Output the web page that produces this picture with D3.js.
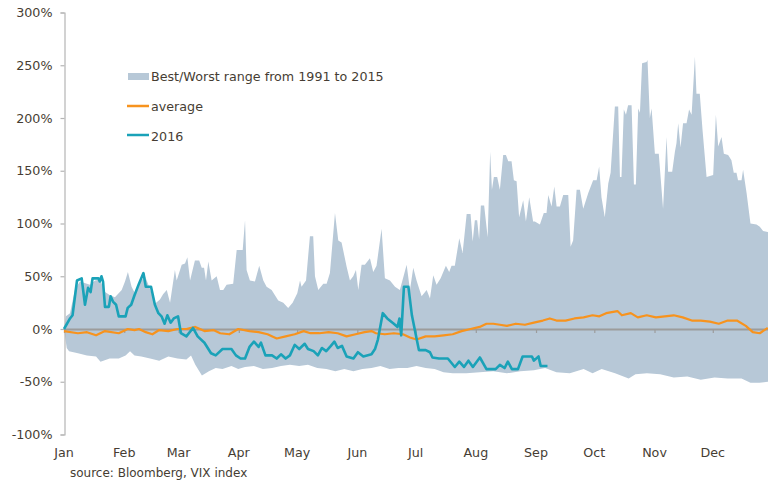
<!DOCTYPE html>
<html><head><meta charset="utf-8">
<script src="https://cdn.jsdelivr.net/npm/d3@7"></script>
<style>
body{margin:0;background:#fff}
svg{display:block}
text{font-family:"DejaVu Sans",Verdana,sans-serif;fill:#463d33}
</style>
</head><body>
<svg id="chart" width="768" height="482"></svg>
<script>
// ---- data (day of year, % change) ----
const monthLabels = ["Jan","Feb","Mar","Apr","May","Jun","Jul","Aug","Sep","Oct","Nov","Dec"];
const monthStarts = [0,31,59,90,120,151,181,212,243,273,304,334];
const yTicks = [-100,-50,0,50,100,150,200,250,300];
const legendLabels = ["Best/Worst range from 1991 to 2015","average","2016"];
const sourceText = "source: Bloomberg, VIX index";

const rangeHigh = [[0,0],[1,12],[3.1,15],[5.7,38],[8.2,45],[13.4,42],[16,46],[18.5,47],[21.1,35],[23.7,32],[26.2,30],[29.7,37],[31.4,45],[32.9,54],[34.8,40],[36.5,34],[39.1,44],[41.7,50],[44.3,38],[46.8,24],[49.4,28],[51,33],[52.9,37],[54.6,25],[57.1,56],[58,46],[60.6,61],[62.3,62],[63.5,68],[64.9,46],[66.6,59],[67.4,65],[69.6,65],[70.9,58],[72.1,58],[73.1,46],[74.3,64],[76,46],[78.6,50],[80.3,37],[82,37],[83.7,42],[87.1,43],[88.9,75],[92,75],[93.2,103],[94,56],[95.7,46],[98.3,45],[100.5,60],[102.6,46],[104.3,40],[106.9,37],[110.3,27],[112.9,25],[115.4,20],[117.7,25],[120.1,34],[121.5,46],[122.3,40],[124.6,46],[126.6,88],[128.3,88],[129.2,50],[130.9,37],[133.5,43],[135.2,43],[136.9,53],[139.5,110],[141.2,84],[142.9,82],[145.5,59],[147.2,46],[148.9,50],[150.3,56],[151.5,37],[153.2,61],[154.9,61],[157.5,67],[159.2,54],[160.9,60],[163.5,95],[165.2,48],[167.8,46],[170.4,40],[172.9,37],[176.4,61],[178.1,37],[179.8,58],[181.5,46],[184.1,31],[186.7,37],[188.4,29],[190.1,51],[191.8,42],[193.9,48],[196.6,60],[198.3,54],[199.5,60],[201.2,60],[203.5,86],[205.2,72],[207.3,109],[209.3,109],[210.4,83],[211.5,103],[212.7,103],[213.7,85],[214.6,117],[216.3,117],[218.1,87],[219.4,168],[220.3,132],[221.3,144],[223,144],[224.4,132],[226.1,165],[227.5,165],[228.7,159],[230.4,159],[231.6,141],[233,140],[234.3,106],[236.4,122],[237.8,102],[239.5,125],[241.5,102],[242.4,102],[245,99],[247,110],[248.4,110],[249.3,127],[251,116],[252.4,135],[253.6,116],[255.3,116],[257,127],[259.6,127],[260.8,78],[262.1,84],[263.9,132],[265.6,132],[267.3,114],[269.9,129],[272.4,141],[274.2,141],[275.5,154],[276.7,125],[278.4,106],[280.2,138],[281.4,148],[283.6,211],[285.3,211],[286.2,144],[287,144],[288.2,208],[289.3,203],[290.4,212],[292.2,212],[293.4,137],[294.4,137],[295.6,209],[296.5,205],[297.6,252],[299.9,253],[300.4,255],[301.6,200],[302.5,209],[304.2,166],[306.2,166],[308.4,114],[310.2,182],[311,149],[313.1,149],[314.5,168],[315.3,176],[316.2,195],[317.4,172],[318.7,195],[320.5,195],[321.8,208],[323.1,203],[324.8,258],[325.6,223],[327.3,223],[328.7,189],[330.8,144],[334.2,146],[335.6,203],[336.8,173],[338.5,182],[339.7,166],[341.9,165],[343.6,160],[344.8,148],[346.2,148],[347,141],[348.8,141],[349.6,151],[351.4,129],[353.4,100],[356.5,99],[358.2,97],[359.9,93],[362.3,92],[365,91]];

const rangeLow = [[0,0],[1.4,-18],[2.6,-21],[7.2,-23],[11.8,-25],[16.5,-26],[18.8,-31],[23.5,-28],[28.2,-28],[31.7,-25],[34,-21],[36.3,-25],[39.8,-26],[44.3,-28],[49,-30],[53.7,-26],[58.4,-28],[63,-29],[65.4,-25],[67.6,-34],[71,-44],[74.6,-40],[78.1,-37],[81.6,-38],[86.2,-35],[89.7,-38],[93.2,-36],[97.8,-35],[102.4,-38],[107.1,-37],[111.7,-35],[116.3,-34],[121.1,-35],[125.6,-34],[130.4,-37],[135.1,-38],[139.7,-40],[144.3,-38],[149,-40],[153.6,-38],[158.3,-37],[162.9,-35],[167.6,-38],[172.2,-37],[176.8,-37],[181.5,-35],[186.2,-37],[190.8,-38],[195.4,-41],[200.1,-42],[207.1,-42],[214,-41],[221,-40],[228,-42],[234.9,-40],[241.9,-39],[247.7,-37],[253.5,-41],[260.4,-42],[267.5,-38],[272.1,-42],[276.8,-38],[283.7,-42],[290.7,-47],[294.2,-43],[300.1,-42],[306.9,-43],[313.9,-46],[320.9,-45],[327.8,-48],[334.9,-46],[341.7,-47],[348.8,-47],[353.4,-51],[358.1,-51],[362.3,-50],[365,-50]];

const average = [[0,-2],[7.2,-4],[11.8,-3],[16.5,-6],[21.1,-2],[28.2,-4],[32.8,0],[36.3,-1],[38.6,0],[42.1,-3],[45.5,-5],[49,-1],[53.7,-2],[58.4,0],[63,0],[67.6,2],[72.3,-2],[76.9,-1],[80.4,-4],[85.1,-5],[89.7,0],[95.5,-2],[100.2,-3],[104.8,-5],[109.5,-9],[114.1,-7],[118.8,-5],[123.4,-2],[126.9,-4],[131.5,-4],[136.2,-3],[140.9,-4],[145.5,-7],[150.1,-5],[154.7,-3],[158.3,-2],[160.6,-4],[165.2,-5],[169.8,-4],[174.5,-5],[178.1,-8],[181.5,-10],[186.2,-7],[190.8,-7],[195.4,-6],[200.1,-5],[204.7,-2],[209.3,0],[214,2],[217.5,5],[221,5],[224.4,4],[228,3],[232.6,5],[237.3,4],[241.9,6],[246.5,8],[250.1,10],[253.5,8],[258.2,8],[262.8,10],[267.5,11],[272.1,13],[275.6,12],[279.1,15],[284.9,17],[287.2,13],[291.8,15],[295.4,11],[300,13],[304.7,11],[309.3,12],[313.9,13],[318.5,11],[323.2,8],[327.8,8],[332.5,7],[337.1,5],[341.7,8],[346.4,8],[351,3],[354.6,-3],[358.2,-4],[362.3,1]];

const y2016 = [[0,0],[3.1,10],[4.4,13],[6.7,46],[9.1,48],[10.8,23],[12.4,39],[13.7,35],[14.7,48],[17.7,48],[18.4,45],[19.3,50],[20.1,45],[21.1,21],[23.1,21],[24,31],[25.2,26],[26.8,23],[28.2,12],[31.7,12],[32.8,20],[34.6,23],[36.3,32],[38.6,43],[40.9,53],[42.1,40],[44.8,40],[46.8,23],[48.6,15],[50.2,12],[51.8,5],[53.2,13],[54.9,6],[56.5,10],[58.7,12],[60.2,-4],[63,-7],[66.4,1],[68.8,-7],[72.3,-13],[75.7,-23],[78.1,-25],[81.6,-19],[86.2,-19],[88.5,-25],[90.9,-28],[93.2,-28],[95.5,-17],[97.8,-12],[100.2,-17],[101.4,-13],[103.7,-25],[107.1,-25],[109.5,-28],[111.7,-24],[114.1,-28],[116.3,-25],[118.8,-15],[121.1,-19],[123.9,-14],[125.6,-19],[128.5,-21],[130.7,-25],[132.8,-18],[135,-21],[137.4,-16],[139.2,-12],[140.9,-18],[143.1,-16],[145.5,-26],[149,-28],[151.3,-22],[154.1,-26],[158.3,-24],[160.1,-19],[161.6,-10],[164.1,15],[166.4,10],[169.8,5],[171.7,2],[172.7,10],[173.6,-6],[175,40],[177.3,40],[179.1,13],[181.5,-9],[182.7,-20],[186.2,-20],[188.4,-22],[189.7,-27],[193,-28],[197.6,-28],[201.2,-36],[203.5,-31],[205.9,-36],[208.2,-30],[210.5,-36],[214.1,-27],[217.5,-38],[222.2,-38],[224.4,-34],[226.8,-37],[228.5,-31],[230.6,-38],[233.7,-38],[236.1,-26],[240.9,-26],[241.9,-30],[244.3,-26],[245.4,-35],[248.9,-35]];

// ---- colours ----
const bandColor = "#b7c8d7";
const avgColor = "#f7931e";
const c2016 = "#1aa2b8";

const svg = d3.select("#chart");
const x = d3.scaleLinear().domain([0,365]).range([64,773]);
const y = d3.scaleLinear().domain([-100,300]).range([434.5,12.5]);

const plot = svg.append("g");
plot.append("clipPath").attr("id","clip").append("rect").attr("x",0).attr("y",0).attr("width",768).attr("height",482);

// band
const line = d3.line().x(d=>x(d[0])).y(d=>y(d[1]));
plot.append("path")
  .attr("d", line(rangeHigh.concat(rangeLow.slice().reverse())) + "Z")
  .attr("fill", bandColor);

// y axis
const yAxis = svg.append("g").attr("transform","translate(64.5,0)")
  .call(d3.axisLeft(y).tickValues(yTicks).tickSize(4).tickSizeOuter(4).tickPadding(8).tickFormat(d=>d+"%"));
yAxis.selectAll("path,line").attr("stroke","#b5b5b5").attr("stroke-width",1.2);
yAxis.selectAll("text").attr("font-size","12.7px").attr("font-family","'DejaVu Sans',Verdana,sans-serif").attr("fill","#463d33");

// zero line with month ticks
const xAxis = svg.append("g").attr("transform",`translate(0,${y(0)})`)
  .call(d3.axisBottom(x).tickValues(monthStarts).tickSize(4).tickSizeOuter(0).tickFormat(""));
xAxis.selectAll("path,line").attr("stroke","#9c9c9c").attr("stroke-width",1.2);
xAxis.select("path.domain").attr("stroke-width",2);

// month labels
svg.append("g").selectAll("text").data(monthStarts).join("text")
  .attr("x", d=>x(d)).attr("y", 457)
  .attr("text-anchor","middle").attr("font-size","12.7px")
  .text((d,i)=>monthLabels[i]);

// average
svg.append("path").datum(average)
  .attr("d", line).attr("fill","none").attr("stroke",avgColor).attr("stroke-width",2.2).attr("stroke-linejoin","round");

// 2016
svg.append("path").datum(y2016)
  .attr("d", line).attr("fill","none").attr("stroke",c2016).attr("stroke-width",2.6).attr("stroke-linejoin","round");

// legend
const lg = svg.append("g");
lg.append("rect").attr("x",128).attr("y",73).attr("width",21).attr("height",7).attr("fill",bandColor);
lg.append("line").attr("x1",127).attr("x2",149).attr("y1",106).attr("y2",106).attr("stroke",avgColor).attr("stroke-width",2.5);
lg.append("line").attr("x1",127).attr("x2",149).attr("y1",135).attr("y2",135).attr("stroke",c2016).attr("stroke-width",2.5);
lg.selectAll("text").data(legendLabels).join("text")
  .attr("x",151).attr("y",(d,i)=>[81,111,141][i])
  .attr("font-size","12.7px").text(d=>d);

// source
svg.append("text").attr("x",70).attr("y",477).attr("font-size","12px").text(sourceText);
</script>
</body></html>
